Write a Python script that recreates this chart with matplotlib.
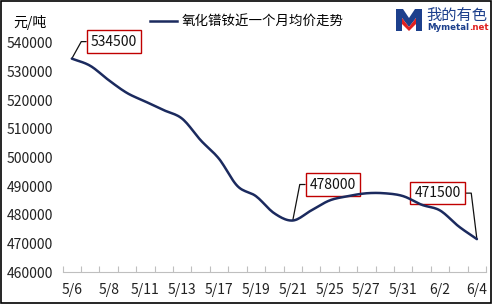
import numpy as np
import matplotlib
matplotlib.use("Agg")
import matplotlib.pyplot as plt
from matplotlib.patches import Rectangle, Polygon

plt.rcParams['font.family'] = ['Noto Sans CJK SC', 'DejaVu Sans']

# 数据
dates = ['5/6', '5/7', '5/8', '5/10', '5/11', '5/12', '5/13', '5/14', '5/17', '5/18',
         '5/19', '5/20', '5/21', '5/24', '5/25', '5/26', '5/27', '5/28', '5/31', '6/1',
         '6/2', '6/3', '6/4']
prices = [534500, 532000, 527000, 522500, 519500, 516500, 513500, 506000, 499500, 490000,
          486500, 480500, 478000, 481500, 485000, 486500, 487500, 487500, 486500, 483500,
          481500, 476000, 471500]
y_ticks = [460000, 470000, 480000, 490000, 500000, 510000, 520000, 530000, 540000]
legend_label = '氧化镨钕近一个月均价走势'
unit_label = '元/吨'


def smooth(x, y, n=12):
    # 简单的 Catmull-Rom 平滑, 模拟 Excel 的平滑线
    x = np.asarray(x, float)
    y = np.asarray(y, float)
    px = np.concatenate([[2 * x[0] - x[1]], x, [2 * x[-1] - x[-2]]])
    py = np.concatenate([[2 * y[0] - y[1]], y, [2 * y[-1] - y[-2]]])
    xs, ys = [], []
    t = np.linspace(0, 1, n, endpoint=False)
    for i in range(1, len(px) - 2):
        for arr, out in ((px, xs), (py, ys)):
            p0, p1, p2, p3 = arr[i - 1], arr[i], arr[i + 1], arr[i + 2]
            out.extend(0.5 * ((2 * p1) + (-p0 + p2) * t
                              + (2 * p0 - 5 * p1 + 4 * p2 - p3) * t ** 2
                              + (-p0 + 3 * p1 - 3 * p2 + p3) * t ** 3))
    xs.append(x[-1])
    ys.append(y[-1])
    return np.array(xs), np.array(ys)


fig = plt.figure(figsize=(4.93, 3.04), dpi=100)
ax = fig.add_axes([0.127, 0.105, 0.859, 0.754])

xpos = np.arange(len(dates))
sx, sy = smooth(xpos, prices)
line, = ax.plot(sx, sy, color='#1B2A5E', lw=1.8, zorder=3, solid_capstyle='round')

ax.set_xlim(-0.5, len(dates) - 0.5)
ax.set_ylim(y_ticks[0], y_ticks[-1])
ax.set_yticks(y_ticks)
ax.set_yticklabels([str(v) for v in y_ticks])
ax.tick_params(axis='y', length=0, pad=7, labelsize=10, colors='#222222')

# x轴: 类别边界处的内向刻度, 标签每隔一个
ax.set_xticks(np.arange(-0.5, len(dates), 1.0))
ax.set_xticklabels([])
ax.tick_params(axis='x', which='major', direction='in', length=4, color='#BFBFBF')
ax.set_xticks(xpos[::2], minor=True)
ax.set_xticklabels(dates[::2], minor=True)
ax.tick_params(axis='x', which='minor', length=0, pad=8, labelsize=10, colors='#222222')

for s in ['top', 'right', 'left']:
    ax.spines[s].set_visible(False)
ax.spines['bottom'].set_color('#BFBFBF')

# 数据标签 (带引线)
def callout(idx, dx, dy, ha, angle):
    xv, yv = xpos[idx], prices[idx]
    ax.annotate(str(yv), xy=(xv, yv), xytext=(dx, dy), textcoords='offset pixels',
                ha=ha, va='center', fontsize=10, color='#111111',
                bbox=dict(boxstyle='square,pad=0.3', fc='white', ec='#C00000', lw=1.0),
                arrowprops=dict(arrowstyle='-', color='#111111', lw=0.9,
                                connectionstyle='angle,angleA=0,angleB=%d,rad=0' % angle,
                                shrinkA=0, shrinkB=0),
                zorder=2)

callout(0, 19, 17, 'left', 61)
callout(12, 17, 36, 'left', 79)
callout(22, -16, 46, 'right', 97)

# 单位与图例
fig.text(13 / 493, 1 - 22 / 304, unit_label, fontsize=10, va='center', ha='left')
fig.lines.append(plt.Line2D([150 / 493, 177 / 493], [1 - 21 / 304] * 2,
                            transform=fig.transFigure, color='#1B2A5E', lw=1.8))
fig.text(182 / 493, 1 - 21 / 304, legend_label, fontsize=9.7, va='center', ha='left')

# 标志
def fx(px):
    return px / 493


def fy(py):
    return 1 - py / 304

m_blue = [(396, 31), (396, 9), (403, 9), (409, 18), (415, 9), (422, 9), (422, 31),
          (416, 31), (416, 18), (409, 27), (402, 18), (402, 31)]
fig.patches.append(Polygon([(fx(a), fy(b)) for a, b in m_blue], closed=True,
                           transform=fig.transFigure, fc='#1C3F8C', ec='none'))
m_red = [(402, 18), (409, 27), (416, 18), (416, 24), (409, 31), (402, 24)]
fig.patches.append(Polygon([(fx(a), fy(b)) for a, b in m_red], closed=True,
                           transform=fig.transFigure, fc='#E02020', ec='none'))
fig.text(fx(426), fy(15), '我的有色', fontsize=11, color='#1C3F8C', va='center', ha='left')
brand = fig.text(fx(427), fy(28), 'Mymetal', fontsize=6.2, color='#1C3F8C', weight='bold',
                 va='center', ha='left', family='DejaVu Sans')
fig.text(0, 0, '.net', fontsize=6.2, color='#E02020', weight='bold',
         va='center', ha='left', family='DejaVu Sans')
net = fig.texts[-1]
net.set_visible(False)
fig.canvas.draw()
bb = brand.get_window_extent()
net.set_position(((bb.x1 + 0.5) / fig.bbox.width, fy(28)))
net.set_visible(True)

# 外框
fig.patches.append(Rectangle((0.002, 0.003), 0.994, 0.993, transform=fig.transFigure,
                             fill=False, ec='black', lw=1.2))

fig.savefig('out.png', dpi=100)
